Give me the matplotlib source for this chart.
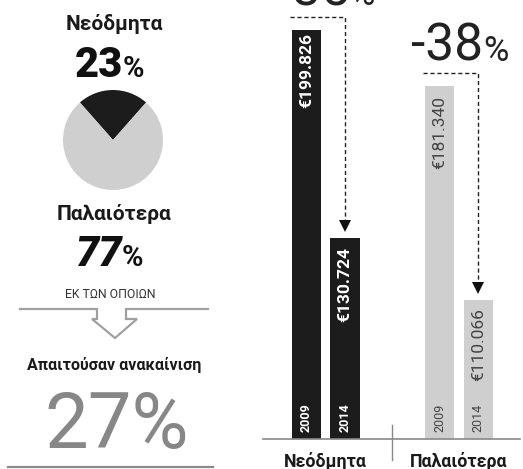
import matplotlib
matplotlib.use('Agg')
import matplotlib.pyplot as plt
import matplotlib.transforms as mtransforms
from matplotlib import font_manager
import numpy as np

# ---------------- data ----------------
categories = ['Νεόδμητα', 'Παλαιότερα']
years = ['2009', '2014']
prices_2009 = [199826, 181340]
prices_2014 = [130724, 110066]
price_labels_2009 = ['€199.826', '€181.340']
price_labels_2014 = ['€130.724', '€110.066']
change_labels = ['-35', '-38']
share_labels = ['Νεόδμητα', 'Παλαιότερα']
share_values = [23, 77]
renovation_label = 'Απαιτούσαν ανακαίνιση'
renovation_share = 27
intermediate_label = 'ΕΚ ΤΩΝ ΟΠΟΙΩΝ'

# ---------------- style ----------------
avail = {f.name for f in font_manager.fontManager.ttflist}
FONT = 'Roboto' if 'Roboto' in avail else 'DejaVu Sans'
plt.rcParams['font.family'] = [FONT, 'DejaVu Sans']

DARK = '#1c1c1c'
LIGHT = '#cfcfcf'
GRAY = '#878787'

W, H = 523, 469
fig = plt.figure(figsize=(W / 100, H / 100), dpi=100)


def fx(px):
    return px / W


def fy(py):
    return 1 - py / H


# overlay for decorations in pixel coordinates
deco = fig.add_axes([0, 0, 1, 1], zorder=0)
deco.set_xlim(0, W)
deco.set_ylim(H, 0)
deco.axis('off')

# ---------------- left panel ----------------
cx = 114
deco.text(cx, 24, share_labels[0], ha='center', va='center', fontsize=15,
          fontweight='bold', color='#1a1a1a')
deco.text(123, 77, f'{share_values[0]}', ha='right', va='baseline', fontsize=30,
          fontweight='black', color='#111111')
deco.text(123, 77, '%', ha='left', va='baseline', fontsize=21,
          fontweight='bold', color='#111111')

pie_ax = fig.add_axes([fx(63), fy(190), 100 / W, 100 / H])
pie_ax.pie(share_values, colors=[DARK, LIGHT],
           startangle=90 - share_values[0] * 3.6 / 2, counterclock=True,
           radius=1, wedgeprops=dict(linewidth=0))
pie_ax.set_xlim(-1, 1)
pie_ax.set_ylim(-1, 1)
pie_ax.axis('off')

deco.text(cx, 214, share_labels[1], ha='center', va='center', fontsize=15,
          fontweight='bold', color='#1a1a1a')
deco.text(122, 266, f'{share_values[1]}', ha='right', va='baseline', fontsize=30,
          fontweight='black', color='#111111', style='italic')
deco.text(122, 266, '%', ha='left', va='baseline', fontsize=21,
          fontweight='bold', color='#111111')

deco.text(110, 294, intermediate_label, ha='center', va='center', fontsize=8.8,
          color='#333333')

# line with outline arrow
px_ = [20, 97, 97, 92, 115, 137, 126, 126, 208]
py_ = [309, 309, 319, 319, 338, 319, 319, 309, 309]
deco.plot(px_, py_, color='#a0a0a0', lw=1.6, solid_joinstyle='miter')

deco.text(cx, 365, renovation_label, ha='center', va='center', fontsize=11.5,
          fontweight='bold', color='#1a1a1a')
deco.text(117, 448, f'{renovation_share}%', ha='center', va='baseline', fontsize=56,
          fontweight='normal', color=GRAY)
deco.plot([8, 213], [467, 467], color='#8a8a8a', lw=1.6)

# ---------------- bar panel ----------------
ax = fig.add_axes([fx(263), fy(439), (520 - 263) / W, 439 / H], zorder=1)
ax.patch.set_alpha(0)
ax.set_xlim(-0.471, 1.458)
ax.set_ylim(63860, 209800)
ymin, ymax = ax.get_ylim()
ax_h_px = 439
upp = (ymax - ymin) / ax_h_px  # data units per pixel

x = np.arange(len(categories))
off = 0.1445
bw = 0.218
group_colors = [DARK, LIGHT]
label_colors = ['white', '#444444']
label_weights = ['bold', 'normal']

ax.bar(x - off, prices_2009, width=bw, color=group_colors, bottom=0)
ax.bar(x + off, prices_2014, width=bw, color=group_colors, bottom=0)

val_pads_2009 = [3, 10]
val_pads_2014 = [9, 8]
for i in range(len(categories)):
    ax.text(x[i] - off, prices_2009[i] - val_pads_2009[i] * upp, price_labels_2009[i],
            rotation=90, ha='center', va='top', fontsize=12.5,
            fontweight=label_weights[i], color=label_colors[i])
    ax.text(x[i] + off, prices_2014[i] - val_pads_2014[i] * upp, price_labels_2014[i],
            rotation=90, ha='center', va='top', fontsize=12.5,
            fontweight=label_weights[i], color=label_colors[i])
    for j, xp in enumerate([x[i] - off, x[i] + off]):
        ax.text(xp, ymin + 7 * upp, years[j], rotation=90, ha='center', va='bottom',
                fontsize=9, fontweight=label_weights[i], color=label_colors[i])

    # dashed connector
    ytop = prices_2009[i] + 13 * upp
    ytip = prices_2014[i] + 12 * upp
    xl = x[i] - off - bw / 2 - 0.015
    xr = x[i] + off
    ax.plot([xl, xr, xr], [ytop, ytop, ytip], color='#222222', lw=1,
            dashes=(3, 2), clip_on=False)
    ax.plot([xr], [ytip], marker='v', markersize=8, color='#111111',
            markeredgewidth=0, clip_on=False)
    # change label
    ax.text(x[i] + 0.18, ytop + 12 * upp, change_labels[i], ha='right', va='baseline',
            fontsize=37, fontweight='normal', color='#222222', clip_on=False)
    ax.text(x[i] + 0.18, ytop + 12 * upp, '%', ha='left', va='baseline',
            fontsize=25, fontweight='normal', color='#222222', clip_on=False)

for s in ['top', 'right', 'left']:
    ax.spines[s].set_visible(False)
ax.spines['bottom'].set_color('#888888')
ax.spines['bottom'].set_linewidth(1.2)
ax.set_yticks([])
ax.set_xticks(x)
ax.set_xticklabels(categories, fontsize=12.8, fontweight='bold', color='#1a1a1a')
ax.tick_params(axis='x', length=0, pad=9)

trans = mtransforms.blended_transform_factory(ax.transData, ax.transAxes)
ax.plot([0.5, 0.5], [14 / ax_h_px, -21 / ax_h_px], transform=trans,
        color='#888888', lw=1, clip_on=False)

fig.savefig('out.png', dpi=100)
